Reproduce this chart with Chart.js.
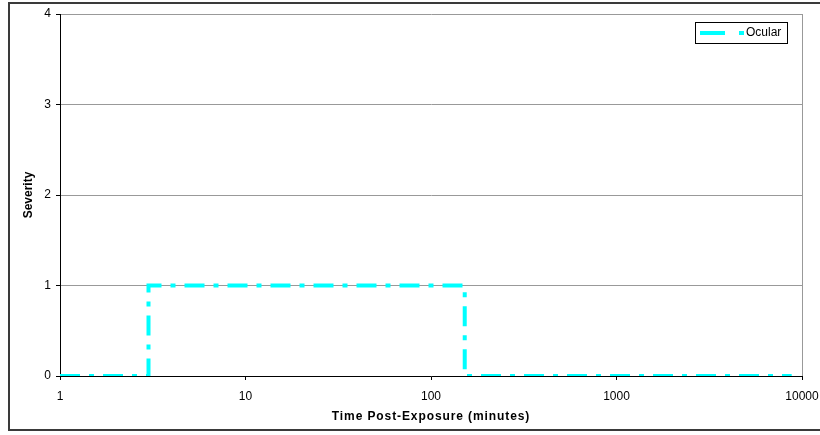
<!DOCTYPE html>
<html>
<head>
<meta charset="utf-8">
<script src="https://cdn.jsdelivr.net/npm/chart.js@4/dist/chart.umd.min.js"></script>
<style>
  html, body { margin: 0; padding: 0; background: #fff; }
  #wrap { width: 820px; height: 435px; }
</style>
</head>
<body>
<div id="wrap"><canvas id="c" width="820" height="435"></canvas></div>
<script>
// ---- Data ----
const seriesLabel = "Ocular";
const timeMinutes = [1, 3, 3, 152, 152, 8800];
const severity    = [0, 0, 1, 1, 0, 0];
const xTickValues = [1, 10, 100, 1000, 10000];
const yTickValues = [0, 1, 2, 3, 4];
const xTitle = "Time Post-Exposure (minutes)";
const yTitle = "Severity";

const FONT = "'Liberation Sans', Arial, sans-serif";
const points = timeMinutes.map((t, i) => ({ x: t, y: severity[i] }));

const framePlugin = {
  id: 'frame',
  beforeDraw(chart) {
    const ctx = chart.ctx;
    ctx.save();
    ctx.fillStyle = '#fff';
    ctx.fillRect(0, 0, chart.width, chart.height);
    ctx.strokeStyle = '#3a3a3a';
    ctx.lineWidth = 2;
    ctx.strokeRect(9, 3, 830, 427);
    ctx.restore();
  },
  beforeDatasetsDraw(chart) {
    const { ctx, chartArea: a } = chart;
    ctx.save();
    ctx.strokeStyle = '#999';
    ctx.lineWidth = 1;
    ctx.beginPath();
    ctx.moveTo(Math.round(a.right) + 0.5, a.top);
    ctx.lineTo(Math.round(a.right) + 0.5, a.bottom);
    ctx.stroke();
    ctx.restore();
  },
  afterDraw(chart) {
    const ctx = chart.ctx;
    const ds = chart.data.datasets[0];
    const a = chart.chartArea;
    ctx.save();
    // x-axis title (drawn with slight letter spacing like the reference)
    ctx.fillStyle = '#000';
    ctx.font = "bold 12px " + FONT;
    ctx.textAlign = 'center';
    ctx.textBaseline = 'middle';
    if ('letterSpacing' in ctx) ctx.letterSpacing = '0.9px';
    ctx.fillText(xTitle, (a.left + a.right) / 2, 417);
    if ('letterSpacing' in ctx) ctx.letterSpacing = '0px';
    // legend
    ctx.fillStyle = '#fff';
    ctx.fillRect(695, 22, 93, 22);
    ctx.strokeStyle = '#000';
    ctx.lineWidth = 1;
    ctx.strokeRect(695.5, 22.5, 92, 21);
    ctx.strokeStyle = ds.borderColor;
    ctx.lineWidth = ds.borderWidth;
    ctx.setLineDash([25, 14, 5, 14]);
    ctx.beginPath();
    ctx.moveTo(700, 33);
    ctx.lineTo(744, 33);
    ctx.stroke();
    ctx.setLineDash([]);
    ctx.fillStyle = '#000';
    ctx.font = "12px " + FONT;
    ctx.textBaseline = 'middle';
    ctx.textAlign = 'left';
    ctx.fillText(ds.label, 746, 33);
    ctx.restore();
  }
};

new Chart(document.getElementById('c'), {
  type: 'line',
  data: {
    datasets: [{
      label: seriesLabel,
      data: points,
      borderColor: '#00FFFF',
      backgroundColor: '#00FFFF',
      borderWidth: 4,
      borderDash: [20, 9, 5, 9],
      pointRadius: 0,
      tension: 0,
      fill: false
    }]
  },
  options: {
    responsive: false,
    animation: false,
    devicePixelRatio: 1,
    layout: { padding: { left: 0, right: 18, top: 14, bottom: 0 } },
    plugins: { legend: { display: false }, tooltip: { enabled: false } },
    scales: {
      x: {
        type: 'logarithmic',
        min: 1, max: 10000,
        afterBuildTicks(scale) { scale.ticks = xTickValues.map(v => ({ value: v })); },
        afterFit(scale) { scale.height = 59; scale.paddingLeft = 0; scale.paddingRight = 0; },
        ticks: {
          color: '#000', font: { family: FONT, size: 12 }, padding: 9,
          maxRotation: 0, autoSkip: false,
          callback: (v) => String(v)
        },
        grid: { drawOnChartArea: false, drawTicks: true, tickLength: 4, tickColor: '#000' },
        border: { display: true, color: '#000', width: 1 },
        title: { display: false, text: xTitle }
      },
      y: {
        min: 0, max: 4,
        afterBuildTicks(scale) { scale.ticks = yTickValues.map(v => ({ value: v })); },
        afterFit(scale) { scale.width = 60; scale.paddingTop = 0; scale.paddingBottom = 0; },
        ticks: { color: '#000', font: { family: FONT, size: 12 }, padding: 5 },
        grid: { color: '#999', lineWidth: 1, drawTicks: true, tickLength: 4, tickColor: '#000' },
        border: { display: true, color: '#000', width: 1 },
        title: { display: true, text: yTitle, color: '#000',
                 font: { family: FONT, size: 12, weight: 'bold' }, padding: { top: 21, bottom: 0 } }
      }
    }
  },
  plugins: [framePlugin]
});
</script>
</body>
</html>
